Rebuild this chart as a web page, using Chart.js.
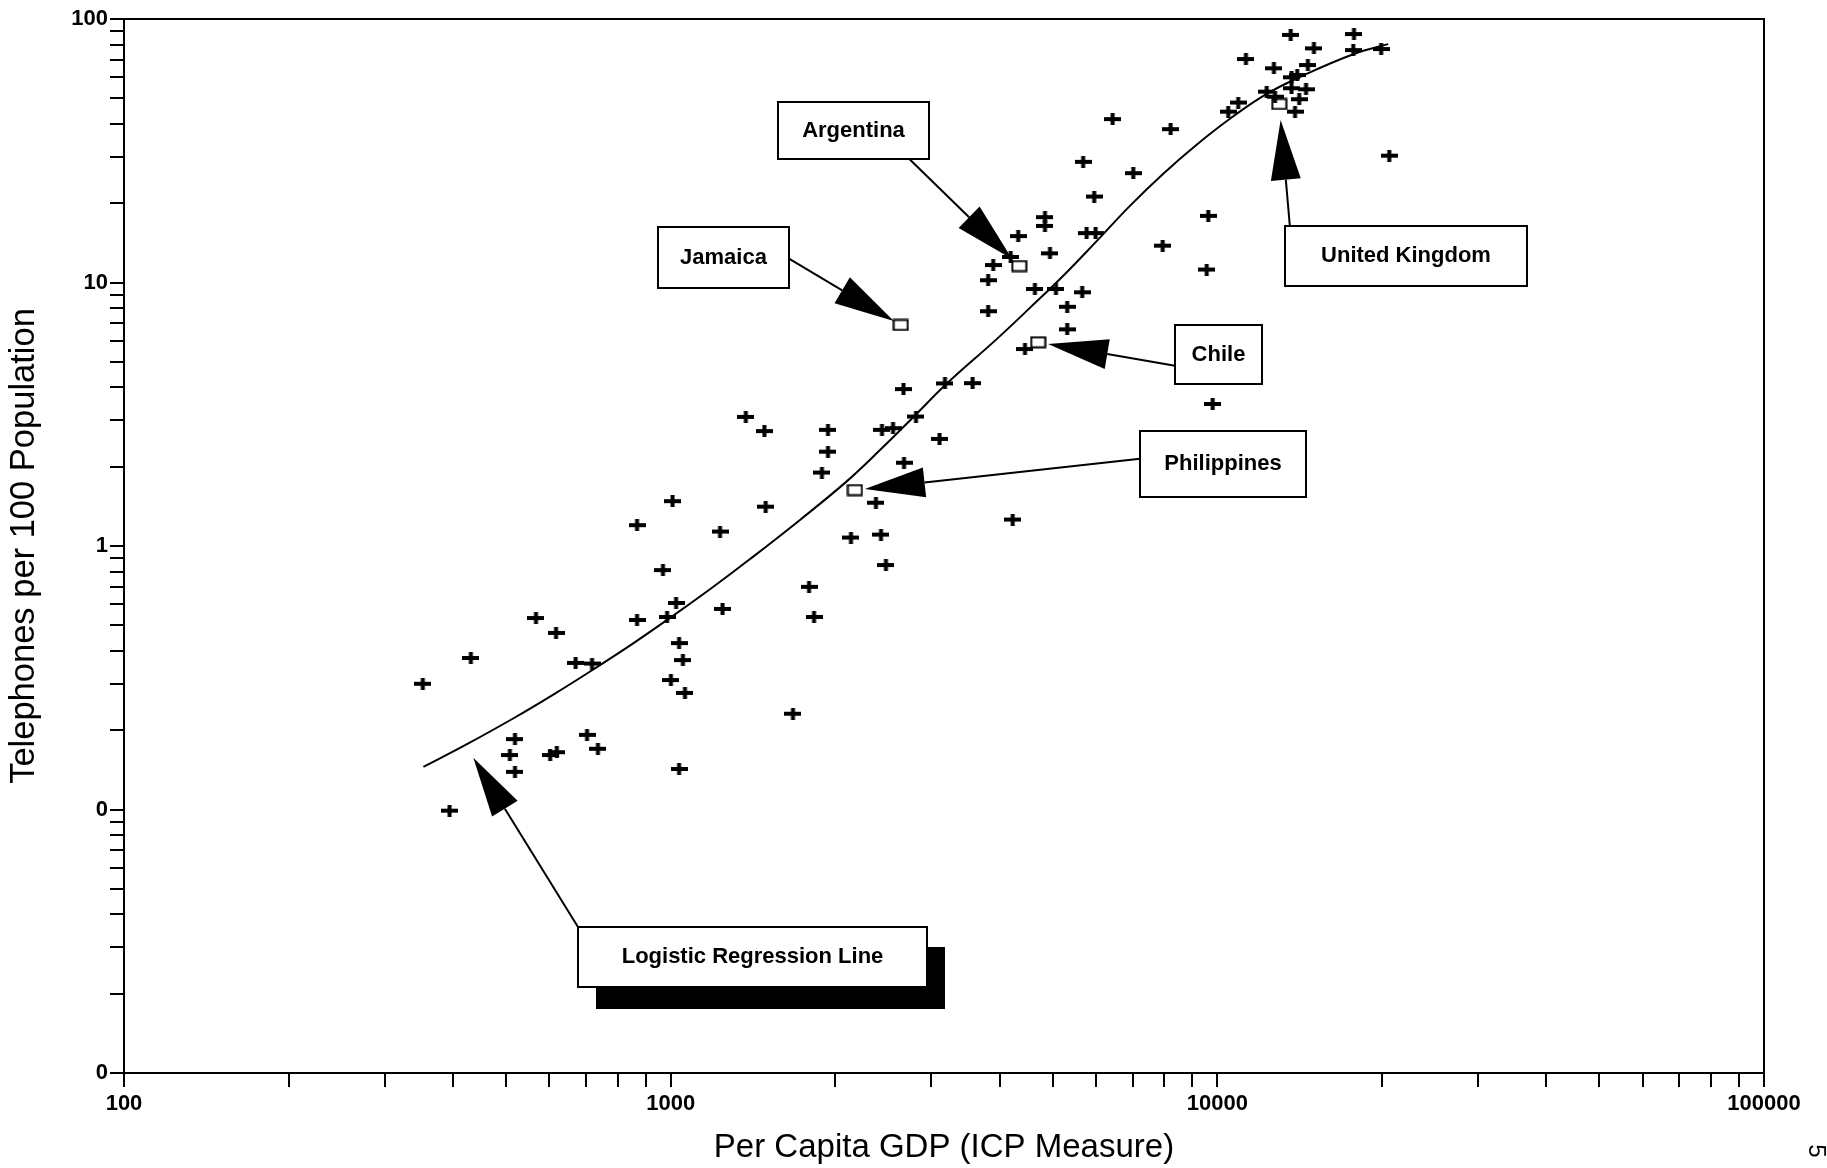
<!DOCTYPE html>
<html>
<head>
<meta charset="utf-8">
<title>Telephones per 100 Population vs Per Capita GDP</title>
<script src="https://cdn.jsdelivr.net/npm/chart.js@4.4.1/dist/chart.umd.min.js"></script>
<style>
  html, body { margin: 0; padding: 0; background: #fff; }
  #wrap { position: relative; width: 1827px; height: 1168px; }
  canvas { display: block; }
</style>
</head>
<body>
<div id="wrap"><canvas id="chart" width="1827" height="1168"></canvas></div>
<script>
// Per capita GDP (ICP measure, US$) for each country in the sample
const gdp = [
  352, 431, 394, 519, 508, 519, 567, 617, 670, 718,
  602, 619, 703, 736, 868, 868, 968, 985, 1008, 1023,
  1036, 1053, 1001, 1062, 1036, 1231, 1244, 1372, 1484, 1492,
  1674, 1791, 1829, 1891, 1940, 1940, 2137, 2374, 2425, 2476,
  2435, 2551, 2666, 2672, 2810, 3103, 3175, 3567, 4223, 3809,
  3809, 3891, 4187, 4323, 4447, 4638, 4838, 4838, 4941, 5067,
  5314, 5314, 5660, 5683, 5766, 5989, 5953, 6433, 7018, 7943,
  8213, 9560, 9625, 9805, 10470, 10920, 11280, 12310, 12690, 12750,
  13620, 13670, 14000, 13670, 14530, 14120, 13870, 14640, 15020, 17780,
  17730, 19940, 20630
];
// Telephone main lines per 100 population, same order as gdp
const phones = [
  0.30, 0.376, 0.099, 0.185, 0.161, 0.139, 0.533, 0.468, 0.36, 0.358,
  0.161, 0.165, 0.192, 0.17, 0.524, 1.2, 0.81, 0.538, 1.48, 0.608,
  0.428, 0.369, 0.31, 0.277, 0.1425, 1.135, 0.577, 3.09, 2.73, 1.41,
  0.231, 0.70, 0.538, 1.90, 2.28, 2.76, 1.077, 1.46, 1.105, 0.847,
  2.76, 2.80, 3.94, 2.07, 3.10, 2.55, 4.14, 4.15, 1.26, 7.78,
  10.2, 11.65, 12.5, 15.0, 5.59, 9.45, 17.7, 16.4, 12.9, 9.45,
  8.09, 6.64, 9.18, 28.7, 15.4, 15.4, 21.2, 41.7, 26.0, 13.8,
  38.2, 11.2, 17.9, 3.46, 44.5, 48.2, 70.5, 53.0, 65.0, 50.7,
  87, 60.1, 61.3, 54.6, 54.1, 49.6, 44.5, 66.9, 77.4, 87.7,
  76.2, 76.9, 30.3
];

// Countries singled out with a labelled arrow
const namedCountries = ['Jamaica', 'Argentina', 'Chile', 'Philippines', 'United Kingdom'];
const namedGdp = [2635, 4342, 4703, 2173, 12980];
const namedPhones = [6.9, 11.55, 5.93, 1.63, 47.6];

// Fitted logistic curve
const fitLabel = 'Logistic Regression Line';
const fitGdp = [353, 424, 515, 610, 717, 854, 1026, 1197, 1397, 1724, 2099, 2415, 2778, 3197,
  3948, 4541, 5226, 6015, 6920, 7963, 9165, 10545, 12310, 14360, 17730, 20540];
const fitPhones = [0.145, 0.177, 0.2215, 0.273, 0.337, 0.427, 0.556, 0.700, 0.892, 1.256, 1.759, 2.312, 3.081, 4.127,
  6.097, 8.01, 10.61, 14.36, 19.54, 25.88, 33.34, 41.83, 51.96, 61.07, 73.5, 80.3];

// Axis tick labels
const xTickValues = [100, 1000, 10000, 100000];
const xTickLabels = ['100', '1000', '10000', '100000'];
const yTickValues = [0.01, 0.1, 1, 10, 100];
const yTickLabels = ['0', '0', '1', '10', '100'];

const xTitle = 'Per Capita GDP (ICP Measure)';
const yTitle = 'Telephones per 100 Population';

// ---- styling and layout -------------------------------------------------
const FONT = "'Liberation Sans', Arial, Helvetica, sans-serif";

// Callout boxes: centre in data units, size in pixels, arrow tail as a
// fraction of the box, and what the arrow points at.
const callouts = [
  { text: 'Argentina',      at: [2158, 37.6],   w: 151, h: 57, tail: [0.87, 1.0], country: 'Argentina',      gap: 10 },
  { text: 'Jamaica',        at: [1249, 12.44],  w: 131, h: 61, tail: [1.0, 0.52], country: 'Jamaica',        gap: 8 },
  { text: 'Chile',          at: [10046, 5.33],  w: 87,  h: 59, tail: [0.0, 0.69], country: 'Chile',          gap: 10 },
  { text: 'Philippines',    at: [10237, 2.047], w: 166, h: 66, tail: [0.0, 0.42], country: 'Philippines',    gap: 10 },
  { text: 'United Kingdom', at: [22130, 12.6],  w: 242, h: 60, tail: [0.02, 0.0], country: 'United Kingdom', gap: 16 },
  { text: fitLabel,         at: [1413, 0.02749], w: 349, h: 60, tail: [0.0, 0.0], point: [435.5, 0.1573], gap: 0, shadow: true }
];

function makeCross() {
  const c = document.createElement('canvas');
  c.width = 17; c.height = 12;
  const g = c.getContext('2d');
  g.fillStyle = '#000';
  g.fillRect(0, 4, 17, 4);
  g.fillRect(6.5, 0, 4, 12);
  return c;
}
function makeSquare() {
  const c = document.createElement('canvas');
  c.width = 17; c.height = 13;
  const g = c.getContext('2d');
  g.strokeStyle = '#000';
  g.lineWidth = 2;
  g.strokeRect(1.5, 1.5, 14, 10);
  return c;
}

// Log-axis tick marks at 1..9 x 10^n
function decadeTicks(lo, hi) {
  const out = [];
  const e0 = Math.round(Math.log10(lo)), e1 = Math.round(Math.log10(hi));
  for (let e = e0; e < e1; e++) {
    for (let m = 1; m <= 9; m++) out.push(+(m * Math.pow(10, e)).toPrecision(6));
  }
  out.push(hi);
  return out;
}
function labelFor(values, labels) {
  return v => {
    const i = values.findIndex(t => Math.abs(t - v) / t < 1e-6);
    return i >= 0 ? labels[i] : '';
  };
}

const framePlugin = {
  id: 'frame',
  afterDatasetsDraw(chart) {
    const { ctx, chartArea: a } = chart;
    ctx.save();
    ctx.strokeStyle = '#000';
    ctx.lineWidth = 2;
    ctx.beginPath();
    ctx.moveTo(a.left, a.top);
    ctx.lineTo(a.right, a.top);
    ctx.lineTo(a.right, a.bottom);
    ctx.stroke();
    ctx.restore();
  },
  afterDraw(chart) {
    const { ctx } = chart;
    ctx.save();
    ctx.translate(1816, 1151);
    ctx.rotate(Math.PI / 2);
    ctx.fillStyle = '#000';
    ctx.font = `24px ${FONT}`;
    ctx.textAlign = 'center';
    ctx.textBaseline = 'middle';
    ctx.fillText('5', 0, 0);
    ctx.restore();
  }
};

const calloutPlugin = {
  id: 'callouts',
  afterDatasetsDraw(chart) {
    const { ctx, scales: { x, y } } = chart;
    ctx.save();
    callouts.forEach(c => {
      const cx = x.getPixelForValue(c.at[0]);
      const cy = y.getPixelForValue(c.at[1]);
      const left = Math.round(cx - c.w / 2), top = Math.round(cy - c.h / 2);

      // arrow
      let tx, ty;
      if (c.country) {
        const i = namedCountries.indexOf(c.country);
        tx = x.getPixelForValue(namedGdp[i]);
        ty = y.getPixelForValue(namedPhones[i]);
      } else {
        tx = x.getPixelForValue(c.point[0]);
        ty = y.getPixelForValue(c.point[1]);
      }
      const sx = left + c.tail[0] * c.w, sy = top + c.tail[1] * c.h;
      let dx = sx - tx, dy = sy - ty;
      const len = Math.hypot(dx, dy);
      dx /= len; dy /= len;
      const tipX = tx + dx * c.gap, tipY = ty + dy * c.gap;
      const headLen = 60, halfW = 15;
      const bx = tipX + dx * headLen, by = tipY + dy * headLen;
      ctx.strokeStyle = '#000';
      ctx.lineWidth = 2;
      ctx.beginPath();
      ctx.moveTo(sx, sy);
      ctx.lineTo(bx, by);
      ctx.stroke();
      ctx.fillStyle = '#000';
      ctx.beginPath();
      ctx.moveTo(tipX, tipY);
      ctx.lineTo(bx - dy * halfW, by + dx * halfW);
      ctx.lineTo(bx + dy * halfW, by - dx * halfW);
      ctx.closePath();
      ctx.fill();

      // box
      if (c.shadow) {
        ctx.fillStyle = '#000';
        ctx.fillRect(left + 18, top + 20, c.w, c.h + 2);
      }
      ctx.fillStyle = '#fff';
      ctx.fillRect(left, top, c.w, c.h);
      ctx.strokeStyle = '#000';
      ctx.lineWidth = 2;
      ctx.strokeRect(left, top, c.w, c.h);
      ctx.fillStyle = '#000';
      ctx.font = `bold 22px ${FONT}`;
      ctx.textAlign = 'center';
      ctx.textBaseline = 'middle';
      ctx.fillText(c.text, left + c.w / 2, top + c.h / 2);
    });
    ctx.restore();
  }
};

const crossImg = makeCross();
const squareImg = makeSquare();

const tickFont = { family: FONT, size: 22, weight: 'bold' };

new Chart(document.getElementById('chart'), {
  type: 'scatter',
  data: {
    datasets: [
      {
        label: fitLabel,
        type: 'line',
        data: fitGdp.map((g, i) => ({ x: g, y: fitPhones[i] })),
        borderColor: '#000',
        borderWidth: 2,
        pointRadius: 0,
        fill: false,
        tension: 0.4,
        order: 2
      },
      {
        label: 'Countries',
        data: gdp.map((g, i) => ({ x: g, y: phones[i] })),
        pointStyle: crossImg,
        pointRadius: 8,
        order: 1
      },
      {
        label: 'Named countries',
        data: namedGdp.map((g, i) => ({ x: g, y: namedPhones[i] })),
        pointStyle: squareImg,
        pointRadius: 8,
        order: 0
      }
    ]
  },
  options: {
    responsive: false,
    animation: false,
    devicePixelRatio: 1,
    layout: { padding: { top: 19, right: 63, left: 0, bottom: 0 } },
    plugins: { legend: { display: false }, tooltip: { enabled: false } },
    scales: {
      x: {
        type: 'logarithmic',
        position: 'bottom',
        min: 100,
        max: 100000,
        afterBuildTicks: s => { s.ticks = decadeTicks(100, 100000).map(v => ({ value: v })); },
        afterFit: s => { s.height = 95; },
        grid: { drawOnChartArea: false, drawTicks: true, tickLength: 14, color: '#000', lineWidth: 2 },
        border: { display: true, color: '#000', width: 2 },
        ticks: {
          autoSkip: false, maxRotation: 0, minRotation: 0, padding: 4,
          color: '#000', font: tickFont,
          callback: labelFor(xTickValues, xTickLabels)
        },
        title: { display: true, text: xTitle, color: '#000', font: { family: FONT, size: 33 }, padding: { top: 0, bottom: 0 } }
      },
      y: {
        type: 'logarithmic',
        position: 'left',
        min: 0.01,
        max: 100,
        afterBuildTicks: s => { s.ticks = decadeTicks(0.01, 100).map(v => ({ value: v })); },
        afterFit: s => { s.width = 124; },
        grid: { drawOnChartArea: false, drawTicks: true, tickLength: 14, color: '#000', lineWidth: 2 },
        border: { display: true, color: '#000', width: 2 },
        ticks: {
          autoSkip: false, padding: 2,
          color: '#000', font: tickFont,
          callback: labelFor(yTickValues, yTickLabels)
        },
        title: { display: true, text: yTitle, color: '#000', font: { family: FONT, size: 34.5 }, padding: { top: 4, bottom: 0 } }
      }
    }
  },
  plugins: [framePlugin, calloutPlugin]
});
</script>
</body>
</html>
